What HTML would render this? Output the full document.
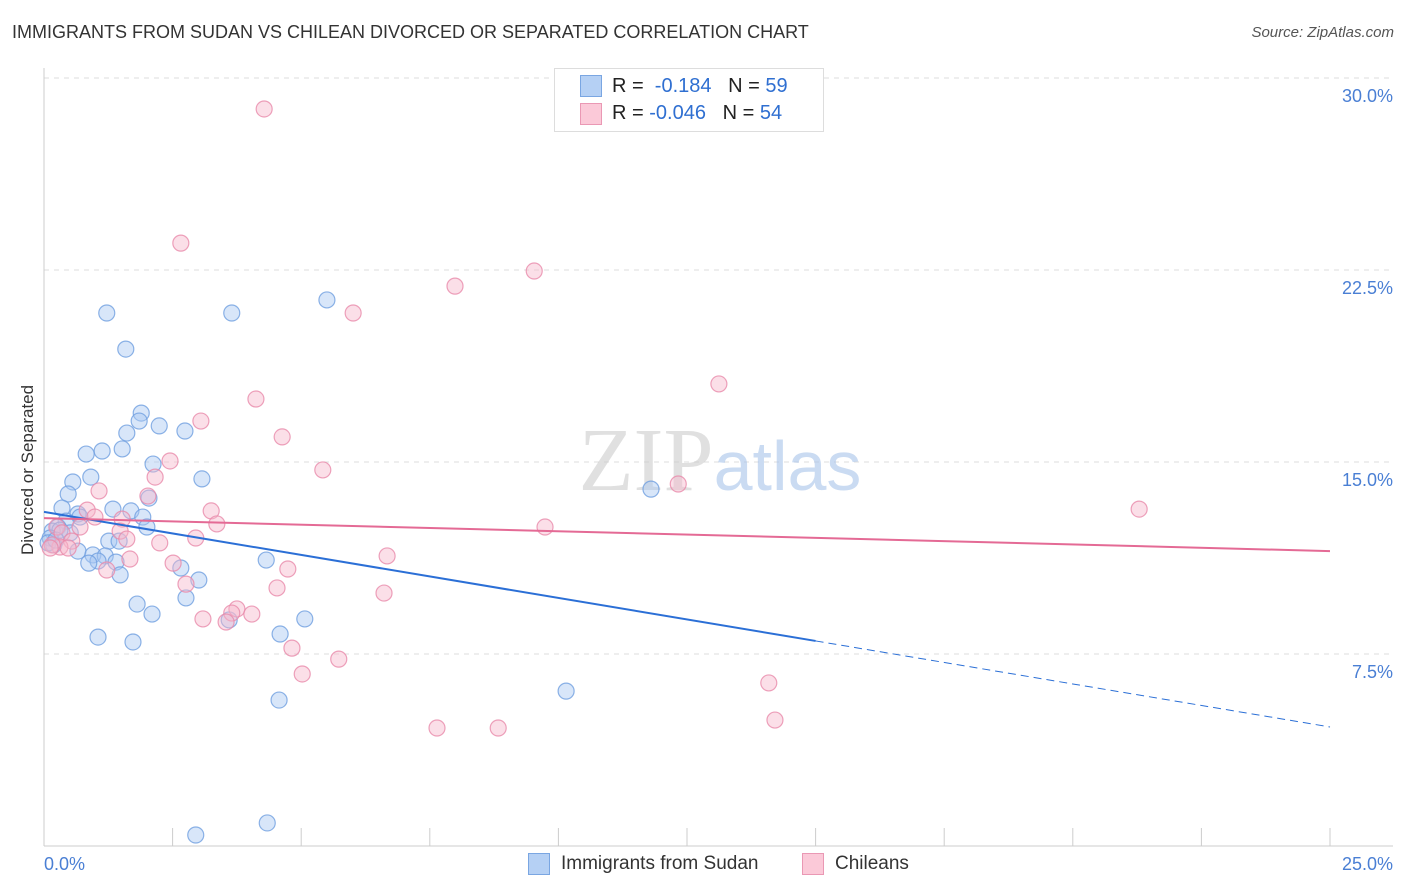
<!DOCTYPE html>
<html><head><meta charset="utf-8">
<style>
body{margin:0;background:#fff;font-family:"Liberation Sans",sans-serif;}
#wrap{position:relative;width:1406px;height:892px;overflow:hidden;}
.t{position:absolute;white-space:nowrap;}
</style></head>
<body>
<div id="wrap">
<div class="t" style="left:12px;top:22px;font-size:18px;color:#333;">IMMIGRANTS FROM SUDAN VS CHILEAN DIVORCED OR SEPARATED CORRELATION CHART</div>
<div class="t" style="right:12px;top:24px;font-size:15px;color:#555;font-style:italic;">Source: ZipAtlas.com</div>
<div class="t" style="left:8px;top:455px;font-size:17px;color:#333;transform:rotate(-90deg);transform-origin:0 0;left:18px;top:555px;">Divorced or Separated</div>
<svg id="svg" width="1406" height="892" style="position:absolute;left:0;top:0;"></svg>
</div>
<script>
const blueX=[1.22,3.65,5.50,1.59,1.89,1.85,2.24,1.61,2.74,1.52,1.13,0.82,2.12,0.91,3.07,0.56,0.47,2.04,0.35,1.34,1.69,0.66,0.70,1.92,0.43,0.27,2.00,0.16,0.51,0.31,0.12,1.26,1.46,0.19,0.66,0.95,1.19,1.05,0.87,1.40,4.32,2.66,1.48,3.01,2.76,1.81,2.10,5.07,3.60,1.05,4.59,1.73,11.80,10.15,4.57,2.95,4.34,0.08,0.23];
const blueY=[20.82,20.82,21.33,19.41,16.91,16.60,16.41,16.13,16.21,15.51,15.43,15.31,14.92,14.41,14.34,14.22,13.75,13.59,13.20,13.16,13.09,12.97,12.85,12.85,12.69,12.46,12.46,12.30,12.23,12.34,12.03,11.91,11.91,11.76,11.52,11.37,11.33,11.13,11.05,11.09,11.17,10.86,10.59,10.39,9.69,9.45,9.06,8.87,8.83,8.16,8.28,7.97,13.94,6.05,5.70,0.43,0.90,11.84,11.95];
const pinkX=[4.28,2.66,9.53,7.99,6.01,13.12,4.12,3.05,4.63,2.45,5.42,2.16,12.33,1.07,2.02,21.29,3.25,0.84,1.52,3.36,9.74,0.99,0.70,1.48,0.25,0.35,0.54,1.61,2.95,2.25,0.31,0.47,0.16,6.67,1.67,2.51,4.74,1.22,2.76,4.53,6.61,3.75,3.65,4.04,3.09,3.54,4.82,5.73,5.02,14.09,14.21,7.64,8.83,0.12];
const pinkY=[28.79,23.55,22.46,21.87,20.82,18.05,17.46,16.60,15.98,15.04,14.69,14.41,14.14,13.87,13.67,13.16,13.09,13.12,12.77,12.58,12.46,12.85,12.46,12.30,12.46,12.23,11.91,11.99,12.03,11.84,11.68,11.64,11.76,11.33,11.21,11.05,10.82,10.78,10.23,10.08,9.88,9.26,9.10,9.06,8.87,8.75,7.73,7.30,6.72,6.37,4.92,4.61,4.61,11.64];
const blueTrend=[13.05,8.01,4.65]; // at x=0, 15, 25
const pinkTrend=[12.81,11.52]; // at x=0, 25
const yTicks=[7.5,15.0,22.5,30.0];
const xTickVals=[0,2.5,5,7.5,10,12.5,15,17.5,20,22.5,25];
const NS="http://www.w3.org/2000/svg";
const svg=document.getElementById('svg');
const sx=v=>44+v/25*1286;
const sy=v=>846-v*25.6;
function mk(tag,attrs){const e=document.createElementNS(NS,tag);for(const k in attrs)e.setAttribute(k,attrs[k]);svg.appendChild(e);return e;}
yTicks.forEach(v=>{
 const g=mk('line',{x1:44,x2:1393,y1:sy(v),y2:sy(v),stroke:'#ddd','stroke-dasharray':'5,5'});
 
 
 const t=mk('text',{x:1393,y:sy(v)+24,'text-anchor':'end','font-size':18,fill:'#4a7fd4','font-family':'Liberation Sans'});
 t.textContent=v.toFixed(1)+'%';
 
 
});
const ax=mk('line',{x1:44,x2:44,y1:68,y2:846,stroke:'#ccc'});


const bx=mk('line',{x1:44,x2:1393,y1:846,y2:846,stroke:'#ccc'});


xTickVals.forEach(v=>{
 const l=mk('line',{x1:sx(v),x2:sx(v),y1:828,y2:846,stroke:'#ccc'});
 
 
});
[[0,'start',44],[25,'end',1393]].forEach(([v,a,x])=>{
 const t=mk('text',{x:x,y:870,'text-anchor':a,'font-size':18,fill:'#4a7fd4','font-family':'Liberation Sans'});
 t.textContent=v.toFixed(1)+'%';
 
 
});
const wm=mk('text',{x:720,y:490,'text-anchor':'middle','font-size':90,'font-family':'Liberation Serif',fill:'#ccc','opacity':0.6});
wm.innerHTML='ZIP<tspan font-family="Liberation Sans" fill="#a8c4ea" font-size="70">atlas</tspan>';


function pts(X,Y,fill,stroke,name){
 X.forEach((x,i)=>{
  const c=mk('circle',{cx:sx(x),cy:sy(Y[i]),r:8,fill:fill,'fill-opacity':0.45,stroke:stroke,'stroke-width':1.2,'stroke-opacity':0.8});
  
  
 });
}
pts(blueX,blueY,'#a9c8f2','#6f9fe0','sudan-point');
pts(pinkX,pinkY,'#f6b9cd','#e88aaa','chilean-point');
const b1=mk('line',{x1:sx(0),y1:sy(blueTrend[0]),x2:sx(15),y2:sy(blueTrend[1]),stroke:'#2b6fd6','stroke-width':2});


const b2=mk('line',{x1:sx(15),y1:sy(blueTrend[1]),x2:sx(25),y2:sy(blueTrend[2]),stroke:'#2b6fd6','stroke-width':1,'stroke-dasharray':'8,5'});


const p1=mk('line',{x1:sx(0),y1:sy(pinkTrend[0]),x2:sx(25),y2:sy(pinkTrend[1]),stroke:'#e46a95','stroke-width':2});


</script>
<div class="t" style="left:554px;top:68px;width:268px;height:62px;border:1px solid #ddd;background:#fff;">
 <div class="t" style="left:25px;top:6px;width:20px;height:20px;background:#b5d0f4;border:1px solid #7aa6e2;"></div>
 <div class="t" style="left:57px;top:6px;font-size:20px;color:#222;">R = <span style="color:#2f6fd1;">&nbsp;-0.184</span>&nbsp;&nbsp;&nbsp;N = <span style="color:#2f6fd1;">59</span></div>
 <div class="t" style="left:25px;top:34px;width:20px;height:20px;background:#fbc9d8;border:1px solid #ea98b4;"></div>
 <div class="t" style="left:57px;top:33px;font-size:20px;color:#222;">R = <span style="color:#2f6fd1;">-0.046</span>&nbsp;&nbsp;&nbsp;N = <span style="color:#2f6fd1;">54</span></div>
</div>
<div class="t" style="left:528px;top:853px;width:20px;height:20px;background:#b5d0f4;border:1px solid #7aa6e2;"></div>
<div class="t" style="left:561px;top:853px;font-size:19px;color:#333;">Immigrants from Sudan</div>
<div class="t" style="left:802px;top:853px;width:20px;height:20px;background:#fbc9d8;border:1px solid #ea98b4;"></div>
<div class="t" style="left:835px;top:853px;font-size:19px;color:#333;">Chileans</div>
</body></html>
